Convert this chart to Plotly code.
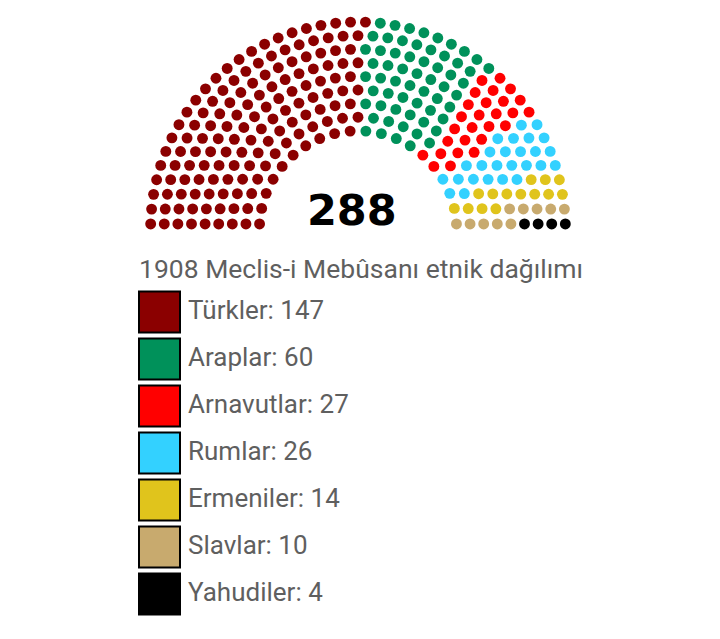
import math
import plotly.graph_objects as go

groups = ["Türkler", "Araplar", "Arnavutlar", "Rumlar", "Ermeniler", "Slavlar", "Yahudiler"]
seats = [147, 60, 27, 26, 14, 10, 4]
colors = ["#8b0000", "#00915a", "#ff0000", "#33d1ff", "#e0c41c", "#c8aa6e", "#000000"]
chart_title = "1908 Meclis-i Mebûsanı etnik dağılımı"

W, H = 720, 639
OFF = 8               # page body margin the browser adds
PX = 122.4            # pixels per hemicycle unit
CX, CY = 358 - OFF, 229.4 - OFF   # centre of the arc, in pixels
ROW_TOP, ROW_STEP = 312 - OFF, 47  # legend rows, in pixels


def seat_layout(n):
    # same row/spot rules as the usual wikipedia parliament diagram
    totals = [3, 15, 33, 61, 95, 138, 189, 247, 313, 388, 469, 559, 657, 762, 876, 997]
    rows = next(i + 1 for i, t in enumerate(totals) if t >= n)
    radius = 0.4 / rows
    pos = []
    for i in range(1, rows):
        J = int(float(n) / totals[rows - 1] * math.pi / (2 * math.asin(2.0 / (3.0 * rows + 4.0 * i - 2.0))))
        R = (3.0 * rows + 4.0 * i - 2.0) / (4.0 * rows)
        if J == 1:
            pos.append((math.pi / 2, R))
        else:
            for j in range(J):
                a = j * (math.pi - 2 * math.sin(radius / R)) / (J - 1) + math.sin(radius / R)
                pos.append((a, R))
    J = n - len(pos)
    R = (7.0 * rows - 2.0) / (4.0 * rows)
    for j in range(J):
        a = j * (math.pi - 2 * math.sin(radius / R)) / (J - 1) + math.sin(radius / R)
        pos.append((a, R))
    pos.sort(reverse=True)
    return pos, radius


total = sum(seats)
spots, spot_r = seat_layout(total)

fig = go.Figure()

k = 0
for name, n, c in zip(groups, seats, colors):
    part = spots[k:k + n]
    k += n
    fig.add_trace(go.Scatter(
        x=[R * math.cos(a) for a, R in part],
        y=[R * math.sin(a) for a, R in part],
        mode="markers",
        marker=dict(size=2 * spot_r * PX, color=c, line=dict(width=0)),
        name=name, hoverinfo="skip",
    ))

fig.add_trace(go.Scatter(
    x=[-0.051], y=[0.124], mode="text", text=[str(total)],
    textposition="middle center",
    textfont=dict(family="DejaVu Sans", size=43, color="black", weight="bold"),
    hoverinfo="skip",
))

# legend drawn as its own little plot
idx = list(range(len(groups)))
fig.add_trace(go.Scatter(
    x=[159.5 - OFF] * len(groups), y=idx, mode="markers",
    marker=dict(symbol="square", size=41, color=colors, line=dict(color="black", width=2)),
    xaxis="x2", yaxis="y2", hoverinfo="skip",
))
fig.add_trace(go.Scatter(
    x=[188 - OFF] * len(groups), y=idx, mode="text",
    text=[f"{g}: {n}" for g, n in zip(groups, seats)],
    textposition="middle right",
    textfont=dict(family="Roboto", size=26, color="#5f5f5f"),
    xaxis="x2", yaxis="y2", hoverinfo="skip",
))

fig.update_layout(
    width=W, height=H,
    margin=dict(l=0, r=0, t=0, b=0),
    paper_bgcolor="white", plot_bgcolor="rgba(0,0,0,0)",
    showlegend=False,
    title=dict(text=chart_title, x=(139 - OFF) / W, xanchor="left", xref="paper",
               y=1 - (269 - OFF) / H, yanchor="middle", yref="paper",
               font=dict(family="Roboto", size=26.5, color="#5f5f5f")),
    xaxis=dict(range=[-CX / PX, (W - CX) / PX], domain=[0, 1], visible=False),
    yaxis=dict(range=[-(H - CY) / PX, CY / PX], domain=[0, 1], visible=False),
    xaxis2=dict(range=[0, W], domain=[0, 1], anchor="y2", visible=False),
    yaxis2=dict(range=[(H - ROW_TOP) / ROW_STEP, -ROW_TOP / ROW_STEP], domain=[0, 1],
                anchor="x2", visible=False),
)

fig.write_html("out.html")
